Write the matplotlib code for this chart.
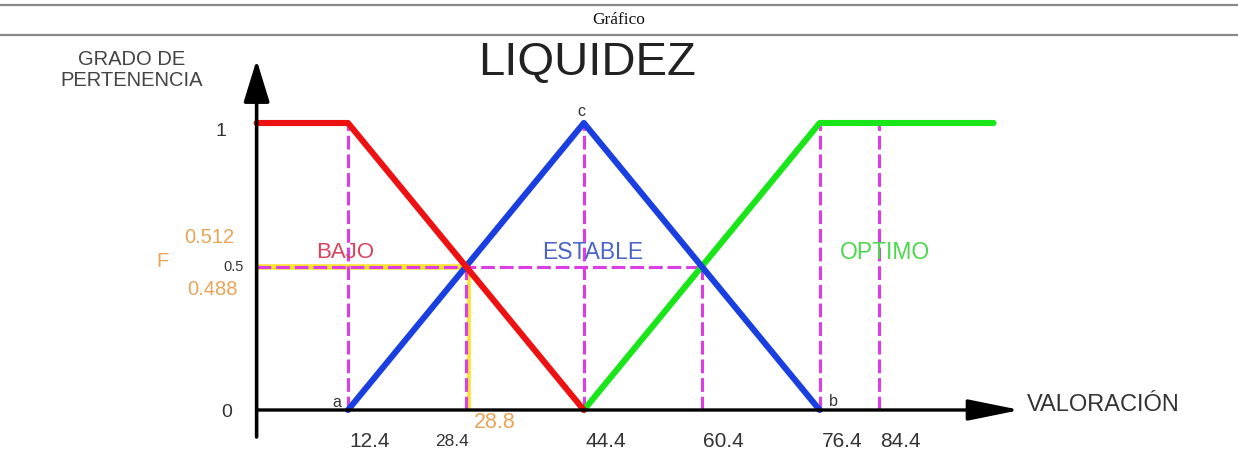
import matplotlib.pyplot as plt

plt.rcParams['font.family'] = ['Liberation Sans', 'DejaVu Sans']

# membership functions (x = valoración, y = grado de pertenencia)
bajo_x = [0, 12.4, 44.4]
bajo_y = [1, 1, 0]
estable_x = [12.4, 44.4, 76.4]
estable_y = [0, 1, 0]
optimo_x = [44.4, 76.4, 100]
optimo_y = [0, 1, 1]

# dashed guide lines
guide_x = [12.4, 28.4, 44.4, 60.4, 76.4, 84.4]
guide_top = [1, 0.5, 1, 0.5, 1, 1]
guide_h_end = 60.4
tick_labels = ['12.4', '28.4', '44.4', '60.4', '76.4', '84.4']

# evaluated point F
f_x = 28.8
f_y = 0.5
f_hi = 0.512
f_lo = 0.488

fig = plt.figure(figsize=(12.38, 4.74), dpi=100)
ax = fig.add_axes([0, 0, 1, 1])
ax.set_xlim(-34.82, 133.16)
ax.set_ylim(-0.223, 1.4286)
ax.axis('off')

# document frame: rules and caption
fig.add_artist(plt.Line2D([0, 1], [0.989, 0.989], color='#888888', lw=1.6))
fig.add_artist(plt.Line2D([0, 1], [0.926, 0.926], color='#888888', lw=1.6))
fig.text(0.5, 0.958, 'Gráfico', ha='center', va='center', fontsize=12.5,
         family='Liberation Serif', color='#111111')

magenta = '#dd3de6'
dash = (0, (4.5, 1.6))

# yellow F lines
ax.plot([0, f_x], [f_y, f_y], color='#ffe12e', lw=4, solid_capstyle='butt', zorder=2)
ax.plot([f_x, f_x], [0, f_y], color='#ffe12e', lw=2.6, solid_capstyle='butt', zorder=2)

# magenta guides
for gx, gt in zip(guide_x, guide_top):
    ax.plot([gx, gx], [0, gt], color=magenta, lw=2.2, linestyle=dash, zorder=3)
ax.plot([0, guide_h_end], [0.5, 0.5], color=magenta, lw=2.2, linestyle=dash, zorder=3)

# membership curves
ax.plot(optimo_x, optimo_y, color='#19e619', lw=4.4, solid_capstyle='round', zorder=4)
ax.plot(estable_x, estable_y, color='#1a3fe0', lw=4.4, solid_capstyle='round', zorder=5)
ax.plot(bajo_x, bajo_y, color='#ee1111', lw=4.4, solid_capstyle='round', zorder=6)

# axes with arrows
ax.annotate('', xy=(0, 1.22), xytext=(0, -0.094),
            arrowprops=dict(arrowstyle='-|>,head_length=2.6,head_width=0.8',
                            lw=2.6, color='black', shrinkA=0, shrinkB=0), zorder=7)
ax.annotate('', xy=(103.6, 0), xytext=(0, 0),
            arrowprops=dict(arrowstyle='-|>,head_length=3.2,head_width=0.65',
                            lw=2.4, color='black', shrinkA=0, shrinkB=0), zorder=7)

# titles and axis names
ax.text(44.9, 1.21, 'LIQUIDEZ', ha='center', va='center', fontsize=34, color='#222222')
ax.text(-16.9, 1.185, 'GRADO DE\nPERTENENCIA', ha='center', va='center', fontsize=14.5,
        color='#444444', linespacing=1.1)
ax.text(104.5, 0.017, 'VALORACIÓN', ha='left', va='center', fontsize=17, color='#333333')

# y labels
ax.text(-4.8, 0.97, '1', ha='center', va='center', fontsize=14, color='#333333')
ax.text(-3.1, 0.5, '0.5', ha='center', va='center', fontsize=10.5, color='#333333')
ax.text(-4, -0.007, '0', ha='center', va='center', fontsize=14, color='#333333')
orange = '#e8a55a'
ax.text(-6.4, 0.6, str(f_hi), ha='center', va='center', fontsize=14.5, color=orange)
ax.text(-6.0, 0.42, str(f_lo), ha='center', va='center', fontsize=14.5, color=orange)
ax.text(-12.8, 0.517, 'F', ha='center', va='center', fontsize=14.5, color=orange)
ax.text(f_x + 3.5, -0.045, str(f_x), ha='center', va='center', fontsize=15.5, color=orange)

# x tick labels
for gx, lab in zip(guide_x, tick_labels):
    if lab == '28.4':
        ax.text(gx - 1.9, -0.11, lab, ha='center', va='center', fontsize=12.5, color='#333333')
    else:
        ax.text(gx + 3.0, -0.11, lab, ha='center', va='center', fontsize=15, color='#333333')

# point letters
ax.text(10.9, 0.025, 'a', ha='center', va='center', fontsize=11.5, color='#333333')
ax.text(44.1, 1.04, 'c', ha='center', va='center', fontsize=11.5, color='#333333')
ax.text(78.2, 0.03, 'b', ha='center', va='center', fontsize=11.5, color='#333333')

# set names
ax.text(12.0, 0.55, 'BAJO', ha='center', va='center', fontsize=16, color='#d9435e')
ax.text(45.6, 0.55, 'ESTABLE', ha='center', va='center', fontsize=16.5, color='#4a64c8')
ax.text(85.2, 0.55, 'OPTIMO', ha='center', va='center', fontsize=16.5, color='#4bd64b')

fig.savefig('out.png', dpi=100)
